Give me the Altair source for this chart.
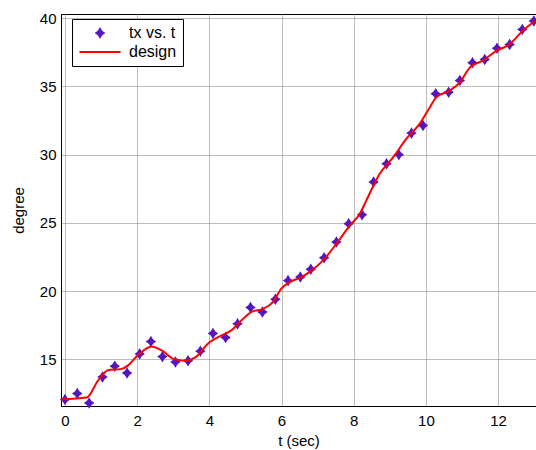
import altair as alt
import pandas as pd

# measured samples (tx vs. t)
t_pts = [0.00, 0.34, 0.67, 1.04, 1.38, 1.72, 2.07, 2.38, 2.70, 3.06,
         3.41, 3.75, 4.10, 4.45, 4.78, 5.14, 5.47, 5.83, 6.18, 6.52,
         6.81, 7.18, 7.52, 7.86, 8.23, 8.55, 8.91, 9.25, 9.60, 9.92,
         10.27, 10.63, 10.94, 11.29, 11.63, 11.97, 12.32, 12.67, 12.99]
tx_pts = [12.05, 12.5, 11.8, 13.7, 14.5, 14.0, 15.4, 16.3, 15.2, 14.8,
          14.9, 15.6, 16.9, 16.6, 17.6, 18.8, 18.47, 19.4, 20.77, 21.03,
          21.6, 22.45, 23.6, 24.94, 25.6, 28.0, 29.33, 30.0, 31.58, 32.14,
          34.47, 34.58, 35.44, 36.74, 36.98, 37.8, 38.08, 39.18, 39.8]

# design curve
t_des = [-0.1, 0.60, 0.92, 1.19, 1.57, 1.75, 2.02, 2.40, 2.67, 3.04,
         3.32, 3.60, 3.96, 4.34, 4.61, 4.89, 5.17, 5.49, 5.76, 6.00,
         6.23, 6.55, 6.83, 7.15, 7.52, 7.89, 8.17, 8.35, 8.72, 9.09,
         9.46, 9.83, 10.11, 10.29, 10.66, 10.94, 11.22, 11.58, 11.95, 12.32,
         12.69, 13.02]
y_des = [12.07, 12.2, 13.46, 14.2, 14.3, 14.56, 15.3, 15.95, 15.67, 15.0,
         14.9, 15.12, 16.15, 16.76, 17.12, 17.86, 18.47, 18.7, 19.2, 20.2,
         20.66, 21.03, 21.5, 22.25, 23.47, 24.8, 25.67, 26.65, 28.6, 29.8,
         31.17, 32.27, 33.48, 34.22, 34.7, 35.3, 36.4, 36.9, 37.6, 38.1,
         39.1, 39.8]

series_names = ["tx vs. t", "design"]
series_colors = ["#5516c0", "#ff0000"]
x_ticks = [0, 2, 4, 6, 8, 10, 12]
y_ticks = [15, 20, 25, 30, 35, 40]

STAR_BODY = "M0,-1.1L0.42,-0.42L1,0L0.42,0.42L0,1.1L-0.42,0.42L-1,0L-0.42,-0.42Z"
# same glyph for the legend, with invisible move-to points so its extent matches the line sample
STAR_LEG = "M-4.1,0M4.1,0" + STAR_BODY
LINE = "M-4.1,0L4.1,0"

pts = pd.DataFrame({"t": t_pts, "v": tx_pts, "series": series_names[0]})
des = pd.DataFrame({"t": t_des, "v": y_des, "series": series_names[1]})

FONT = "Liberation Sans"

legend = alt.Legend(
    title=None,
    orient="none",
    legendX=11,
    legendY=5,
    fillColor="white",
    strokeColor="black",
    padding=6,
    cornerRadius=0,
    labelFont=FONT,
    labelFontSize=16,
    labelColor="black",
    symbolSize=100,
    symbolOffset=14,
    labelOffset=21,
    rowPadding=3,
    symbolOpacity=1,
    symbolType=alt.ExprRef(expr=f"datum.value === 'design' ? '{LINE}' : '{STAR_LEG}'"),
    symbolStrokeColor=alt.ExprRef(expr="datum.value === 'design' ? '#ff0000' : '#5516c0'"),
    symbolStrokeWidth=alt.ExprRef(expr="datum.value === 'design' ? 2 : 0.5"),
)

color = alt.Color("series:N",
                  scale=alt.Scale(domain=series_names, range=series_colors),
                  legend=legend)

xenc = alt.X("t:Q",
             scale=alt.Scale(domain=[-0.11, 13.05], nice=False, zero=False),
             axis=alt.Axis(values=x_ticks, title="t (sec)", format="d"))
yenc = alt.Y("v:Q",
             scale=alt.Scale(domain=[11.58, 40.31], nice=False, zero=False),
             axis=alt.Axis(values=y_ticks, title="degree", format="d"))

points = alt.Chart(pts).mark_point(shape=STAR_BODY, filled=True, size=110, opacity=1).encode(
    x=xenc, y=yenc, color=color)

line = alt.Chart(des).mark_line(strokeWidth=2, interpolate="monotone", clip=True).encode(
    x=xenc, y=yenc, color=color)

chart = alt.layer(points, line).properties(
    width=475, height=392,
    autosize=alt.AutoSizeParams(type="none"),
    padding={"left": 61, "top": 14, "right": 0, "bottom": 44},
    background="white",
).configure_view(
    stroke="black", strokeWidth=1
).configure_axis(
    labelFont=FONT, labelFontSize=15, labelColor="black",
    titleFont=FONT, titleFontSize=15, titleFontWeight="normal", titleColor="black",
    domainColor="black", domainWidth=1,
    ticks=False, tickSize=0,
    grid=True, gridColor="#7a7a7a", gridDash=[1, 1], gridWidth=1,
).configure_axisX(
    labelPadding=7, titlePadding=5,
).configure_axisY(
    labelPadding=5, titlePadding=13,
)

chart.save("out.html", embed_options={"renderer": "svg", "actions": False})
